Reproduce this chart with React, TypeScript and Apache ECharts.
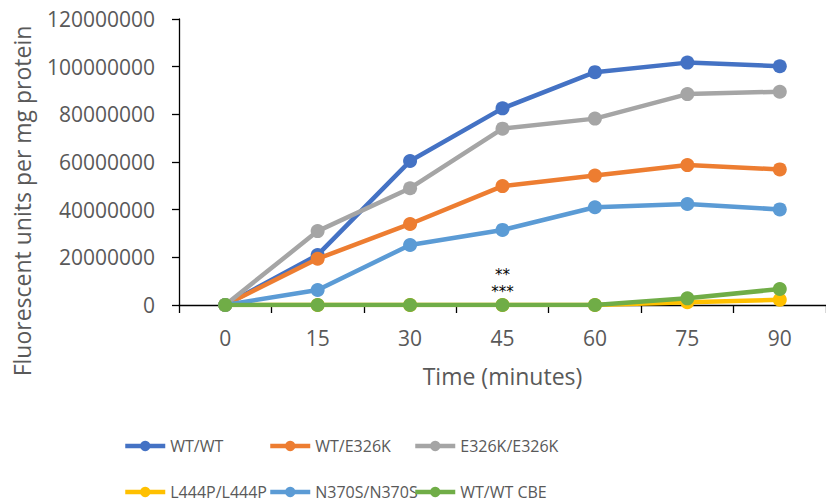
import React, { useEffect, useRef } from "react";
import * as echarts from "echarts";

const categories = ["0", "15", "30", "45", "60", "75", "90"];
const seriesNames = ["WT/WT", "WT/E326K", "E326K/E326K", "L444P/L444P", "N370S/N370S", "WT/WT CBE"];
const wtWt = [0, 21000000, 60400000, 82500000, 97700000, 101700000, 100200000];
const wtE326k = [0, 19400000, 34000000, 49900000, 54300000, 58700000, 56900000];
const e326kE326k = [0, 31000000, 49000000, 74000000, 78200000, 88500000, 89500000];
const l444p = [0, 0, 0, 0, 0, 1200000, 2200000];
const n370s = [0, 6300000, 25200000, 31500000, 41000000, 42400000, 40100000];
const wtCbe = [0, 0, 0, 0, 0, 2800000, 6700000];
const colors = ["#4472C4", "#ED7D31", "#A5A5A5", "#FFC000", "#5B9BD5", "#70AD47"];
const significance = "**\n***";
const significanceIndex = 3;

const FONT = "Open Sans";
const GREY = "#595959";

export default function App() {
  const ref = useRef<HTMLDivElement>(null);
  useEffect(() => {
    if (!ref.current) return;
    const chart = echarts.init(ref.current, undefined, { renderer: "svg" });
    const allData = [wtWt, wtE326k, e326kE326k, l444p, n370s, wtCbe];
    const series = allData.map((d, i) => ({
      name: seriesNames[i],
      type: "line",
      data: d.map((v, j) =>
        i === 5 && j === significanceIndex
          ? {
              value: v,
              label: {
                show: true,
                formatter: significance,
                position: "top",
                distance: 0,
                offset: [0, 3],
                fontFamily: "DejaVu Sans",
                fontSize: 15,
                lineHeight: 17.5,
                color: "#000",
              },
            }
          : v
      ),
      symbol: "circle",
      symbolSize: 14,
      lineStyle: { width: 4.5, color: colors[i] },
      itemStyle: { color: colors[i] },
      z: 2 + i,
    }));
    const colLeft = [118, 263, 408];
    const rowTop = [433, 479];
    const legends = seriesNames.map((n, i) => ({
      data: [n],
      left: colLeft[i % 3],
      top: rowTop[Math.floor(i / 3)],
      itemWidth: 40,
      itemHeight: 13,
      itemGap: 4,
      lineStyle: { width: 4.5 },
      textStyle: { fontFamily: FONT, fontSize: 16, color: GREY },
    }));
    chart.setOption({
      animation: false,
      color: colors,
      grid: { left: 179, top: 19, right: -7, bottom: 198 },
      legend: legends,
      xAxis: {
        type: "category",
        data: categories,
        boundaryGap: true,
        name: "Time (minutes)",
        nameLocation: "middle",
        nameGap: 59,
        nameTextStyle: { fontFamily: FONT, fontSize: 23, color: GREY },
        axisLine: { lineStyle: { color: "#000", width: 1.3 } },
        axisTick: { show: true, length: 8, lineStyle: { color: "#000", width: 1.3 } },
        axisLabel: { fontFamily: FONT, fontSize: 21, color: GREY, margin: 22 },
        splitLine: { show: false },
      },
      yAxis: {
        type: "value",
        min: 0,
        max: 120000000,
        interval: 20000000,
        axisLine: { show: true, lineStyle: { color: "#000", width: 1.3 } },
        axisTick: { show: true, length: 7, lineStyle: { color: "#000", width: 1.3 } },
        axisLabel: {
          fontFamily: FONT,
          fontSize: 21,
          color: GREY,
          margin: 24,
          formatter: (v: number) => String(v),
        },
        splitLine: { show: false },
      },
      graphic: [
        {
          type: "text",
          x: 22,
          y: 201,
          rotation: Math.PI / 2,
          style: {
            text: "Fluorescent units per mg protein",
            fontFamily: FONT,
            fontSize: 23,
            fill: GREY,
            textAlign: "center",
            textVerticalAlign: "middle",
          },
        },
      ],
      series,
    });
    return () => chart.dispose();
  }, []);
  return (
    <div
      ref={ref}
      style={{ position: "fixed", left: 0, top: 0, width: 826, height: 503, background: "#fff" }}
    />
  );
}
